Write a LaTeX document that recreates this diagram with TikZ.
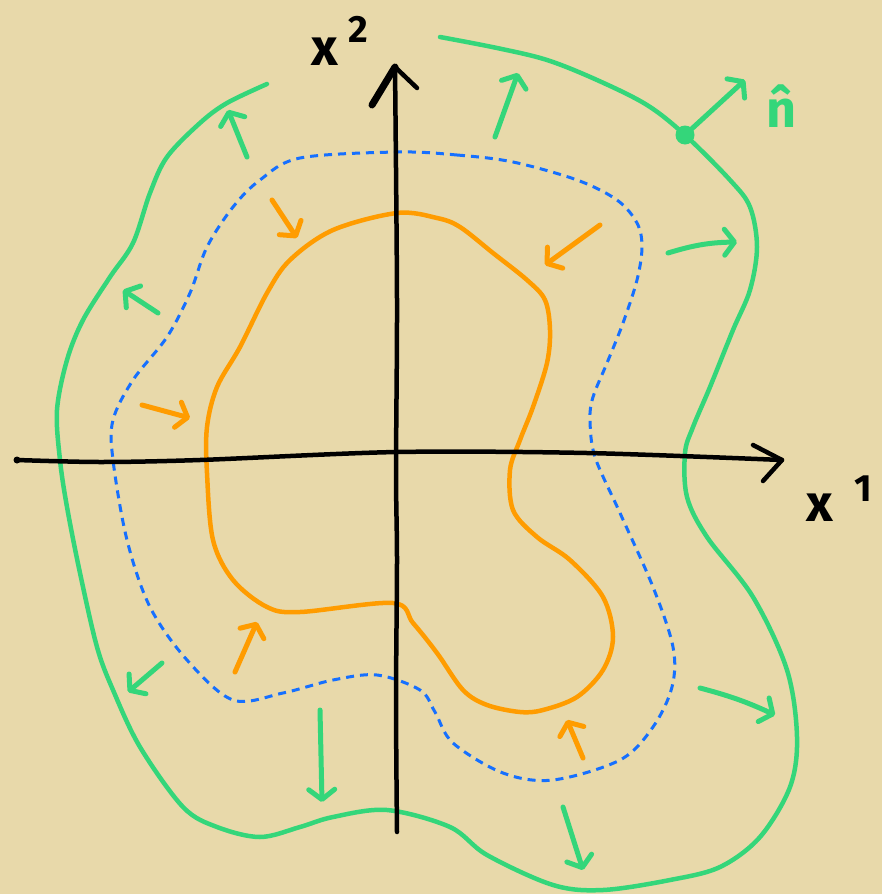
\documentclass[tikz,border=0pt]{standalone}
\usepackage{fontspec}
\setsansfont{Fira Sans}
\usetikzlibrary{arrows.meta}
\definecolor{paper}{RGB}{232,217,170}
\definecolor{grn}{RGB}{52,214,122}
\definecolor{org}{RGB}{255,156,0}
\definecolor{blu}{RGB}{22,112,255}
\begin{document}
\begin{tikzpicture}[x=1pt,y=-1pt,line cap=round,line join=round,
  curve/.style={line width=4.5pt,smooth,tension=0.55},
  barb/.style={-{Straight Barb[round,length=10pt,width=26pt]}},
  garrow/.style={grn,line width=5pt,barb},
  oarrow/.style={org,line width=5pt,barb},
  axis/.style={black,line width=4.5pt,smooth,tension=0.5},
  hand/.style={font=\sffamily\bfseries\fontsize{52}{52}\selectfont,inner sep=0pt},
  handsmall/.style={font=\sffamily\bfseries\fontsize{38}{38}\selectfont,inner sep=0pt}]
\fill[paper] (0,0) rectangle (882,894);
\useasboundingbox (0,0) rectangle (882,894);

% outer green curve (open)
\draw[grn,curve] plot coordinates {(267,84) (227,103) (200,123) (167,157) (150,193) (133,243) (110,277) (83,320) (67,360) (57,410) (60,460) (67,507) (80,573) (97,647) (113,690) (140,747) (183,807) (217,827) (260,837) (300,827) (333,817) (387,810) (450,827) (487,855) (553,885) (603,890) (670,880) (720,867) (760,837) (790,787) (797,737) (787,670) (753,597) (707,537) (687,497) (685,453) (693,427) (710,387) (733,330) (750,290) (757,247) (750,207) (730,180) (685,135) (647,105) (597,80) (547,60) (497,48) (440,37)};

% blue dashed curve
\draw[blu,line width=3pt,smooth cycle,tension=0.55,dash pattern=on 8pt off 6pt,line cap=butt] plot coordinates {(398,152) (457,155) (513,162) (577,180) (617,200) (637,223) (642,247) (637,280) (623,323) (607,363) (593,397) (590,420) (595,457) (620,513) (653,587) (673,647) (672,687) (653,727) (620,760) (553,780) (503,773) (453,743) (435,712) (420,690) (377,675) (333,680) (283,693) (233,700) (187,660) (150,607) (127,540) (113,460) (113,420) (133,380) (167,337) (190,293) (207,247) (233,207) (260,180) (300,158)};

% orange curve
\draw[org,line width=4.5pt,smooth cycle,tension=0.55] plot coordinates {(397,213) (437,218) (460,227) (493,253) (527,280) (545,300) (550,330) (547,363) (533,407) (520,440) (510,470) (513,510) (537,537) (570,560) (603,597) (613,637) (603,670) (577,697) (543,710) (520,712) (487,705) (463,690) (437,653) (413,623) (393,603) (300,612) (267,607) (233,580) (213,540) (207,473) (207,427) (217,387) (240,347) (267,293) (290,260) (333,230)};

% axes
\coordinate (h0) at (17,460);
\coordinate (h1) at (782,460);
\coordinate (v0) at (397,832);
\coordinate (v1) at (395,67);
\draw[axis] plot coordinates {(17,460) (100,462) (200,460) (397,452) (587,453) (782,460)};
\fill[black] (h0) circle (3.5pt);
\draw[black,line width=4.5pt] (753,445) -- (h1) -- (763,481);
\draw[axis] plot coordinates {(397,832) (396,700) (397,560) (396,470) (397,300) (395,67)};
\draw[black,line width=4.5pt] (v1) -- (417,88);
\draw[black,line width=7pt] (v1) -- (372,105);

% labels
\node[hand] (lx2) at (325,52) {x};
\node[handsmall] (l2) at (358,29) {2};
\node[hand] (lx1) at (820,508) {x};
\node[handsmall] (l1) at (863,489) {1};
\node[hand,text=grn] (ln) at (781,106) {\^{n}};

% normal at point
\node[circle,fill=grn,minimum size=19pt,inner sep=0pt] (dot) at (685,135) {};
\coordinate (ntip) at (745,80);
\draw[garrow] (dot.center) -- (ntip);

% green outward arrows
\draw[garrow] (247,157) -- (228,110);
\draw[garrow] (495,137) -- (518,73);
\draw[garrow] (158,313) -- (123,290);
\draw[garrow] (668,253) to[bend left=8] (737,242);
\draw[garrow] (162,663) -- (128,692);
\draw[garrow] (320,710) -- (322,802);
\draw[garrow] (700,688) to[bend left=5] (775,715);
\draw[garrow] (563,807) -- (583,870);

% orange inward arrows
\draw[oarrow] (272,200) -- (297,238);
\draw[oarrow] (600,225) -- (545,265);
\draw[oarrow] (142,405) -- (190,418);
\draw[oarrow] (235,672) -- (257,622);
\draw[oarrow] (583,758) -- (567,720);
\end{tikzpicture}
\end{document}
